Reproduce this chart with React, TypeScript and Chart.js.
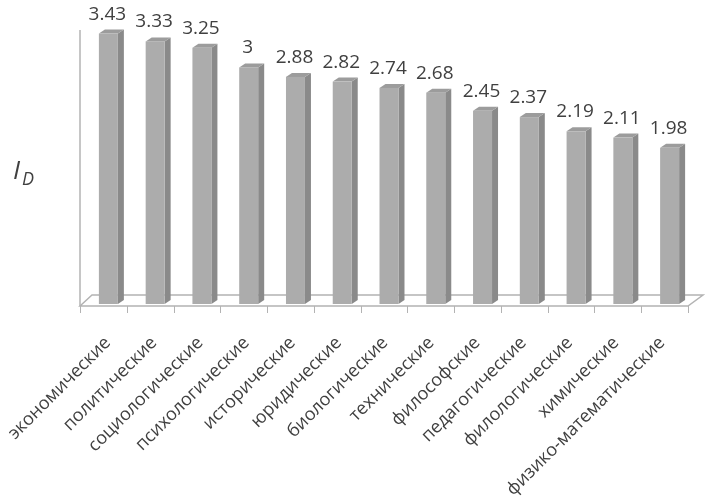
import React, { useEffect, useRef } from "react";
import { Chart, registerables } from "chart.js";

Chart.register(...registerables);

const categories = [
  "экономические",
  "политические",
  "социологические",
  "психологические",
  "исторические",
  "юридические",
  "биологические",
  "технические",
  "философские",
  "педагогические",
  "филологические",
  "химические",
  "физико-математические",
];
const values = [3.43, 3.33, 3.25, 3, 2.88, 2.82, 2.74, 2.68, 2.45, 2.37, 2.19, 2.11, 1.98];
const valueLabels = ["3.43", "3.33", "3.25", "3", "2.88", "2.82", "2.74", "2.68", "2.45", "2.37", "2.19", "2.11", "1.98"];
const yTitleMain = "I";
const yTitleSub = "D";

const FONT = "'Open Sans', 'Noto Sans', sans-serif";
const TEXT = "#404040";
const FRONT = "#acacac";
const SIDE = "#8a8a8a";
const TOP = "#9c9c9c";
const LINE = "#b3b3b3";
const SHIFT = 5; // bar offset to the middle of the 3D depth
const DX = 6;
const DY = -4;

const bar3dPlugin = {
  id: "bar3d",
  beforeDatasetsDraw(chart: any) {
    const { ctx, chartArea } = chart;
    const xs = chart.scales.x;
    const n = categories.length;
    const step = (chartArea.right - chartArea.left) / n;
    const fy = chartArea.bottom + 2;
    const by = chartArea.bottom - 9;
    ctx.save();
    ctx.strokeStyle = LINE;
    ctx.lineWidth = 1.5;
    ctx.beginPath();
    ctx.moveTo(chartArea.left, chartArea.top + 2);
    ctx.lineTo(chartArea.left, fy);
    ctx.stroke();
    ctx.beginPath();
    ctx.moveTo(chartArea.left, fy);
    ctx.lineTo(chartArea.left + 12, by);
    ctx.lineTo(chartArea.right + 15, by);
    ctx.lineTo(chartArea.right, fy);
    ctx.closePath();
    ctx.stroke();
    ctx.lineWidth = 1;
    for (let k = 0; k <= n; k++) {
      const tx = Math.round(xs.left + k * step) + 0.5;
      ctx.beginPath();
      ctx.moveTo(tx, fy);
      ctx.lineTo(tx, fy + 7);
      ctx.stroke();
    }
    ctx.restore();
  },
  afterDatasetsDraw(chart: any) {
    const { ctx } = chart;
    const meta = chart.getDatasetMeta(0);
    ctx.save();
    meta.data.forEach((el: any, i: number) => {
      const { x, y, width, base } = el.getProps(["x", "y", "width", "base"], true);
      const left = x - width / 2 + SHIFT;
      const right = left + width;
      ctx.fillStyle = SIDE;
      ctx.beginPath();
      ctx.moveTo(right, y);
      ctx.lineTo(right + DX, y + DY);
      ctx.lineTo(right + DX, base + DY);
      ctx.lineTo(right, base);
      ctx.closePath();
      ctx.fill();
      ctx.fillStyle = TOP;
      ctx.beginPath();
      ctx.moveTo(left, y);
      ctx.lineTo(left + DX, y + DY);
      ctx.lineTo(right + DX, y + DY);
      ctx.lineTo(right, y);
      ctx.closePath();
      ctx.fill();
      ctx.fillStyle = FRONT;
      ctx.fillRect(left, y, width, base - y);
      ctx.fillStyle = TEXT;
      ctx.font = `19px ${FONT}`;
      ctx.textAlign = "center";
      ctx.textBaseline = "alphabetic";
      ctx.fillText(valueLabels[i], x + SHIFT - 1, y - 14);
    });
    ctx.restore();
  },
  afterDraw(chart: any) {
    const { ctx, chartArea } = chart;
    const xs = chart.scales.x;
    const n = categories.length;
    ctx.save();
    ctx.fillStyle = TEXT;
    ctx.font = `18px ${FONT}`;
    ctx.textAlign = "right";
    ctx.textBaseline = "middle";
    categories.forEach((c, i) => {
      const cx = xs.getPixelForValue(i);
      const ax = cx + 4.5 - (7 * i) / (n - 1);
      const ay = chartArea.bottom + 36;
      ctx.save();
      ctx.translate(ax, ay);
      ctx.rotate(-Math.PI / 4);
      ctx.fillText(c, 0, 0);
      ctx.restore();
    });
    ctx.textAlign = "left";
    ctx.textBaseline = "alphabetic";
    ctx.font = `italic 26px ${FONT}`;
    ctx.fillText(yTitleMain, 13, 179);
    ctx.font = `italic 18px ${FONT}`;
    ctx.fillText(yTitleSub, 22, 185);
    ctx.restore();
  },
};

export default function App() {
  const ref = useRef<HTMLCanvasElement | null>(null);
  useEffect(() => {
    if (!ref.current) return;
    const chart = new Chart(ref.current, {
      type: "bar",
      data: {
        labels: categories,
        datasets: [
          {
            data: values,
            backgroundColor: "rgba(0,0,0,0)",
            borderWidth: 0,
            barPercentage: 0.406,
            categoryPercentage: 1,
          },
        ],
      },
      options: {
        responsive: false,
        animation: false,
        layout: { padding: { left: 80, right: 21, top: 28, bottom: 194 } },
        plugins: { legend: { display: false }, tooltip: { enabled: false } },
        scales: {
          x: { display: false },
          y: { display: false, min: 0, max: 3.5 },
        },
      },
      plugins: [bar3dPlugin],
    });
    return () => chart.destroy();
  }, []);
  return (
    <div style={{ position: "fixed", left: 0, top: 0, width: 709, height: 498, background: "#fff" }}>
      <canvas ref={ref} width={709} height={498} style={{ display: "block" }} />
    </div>
  );
}
